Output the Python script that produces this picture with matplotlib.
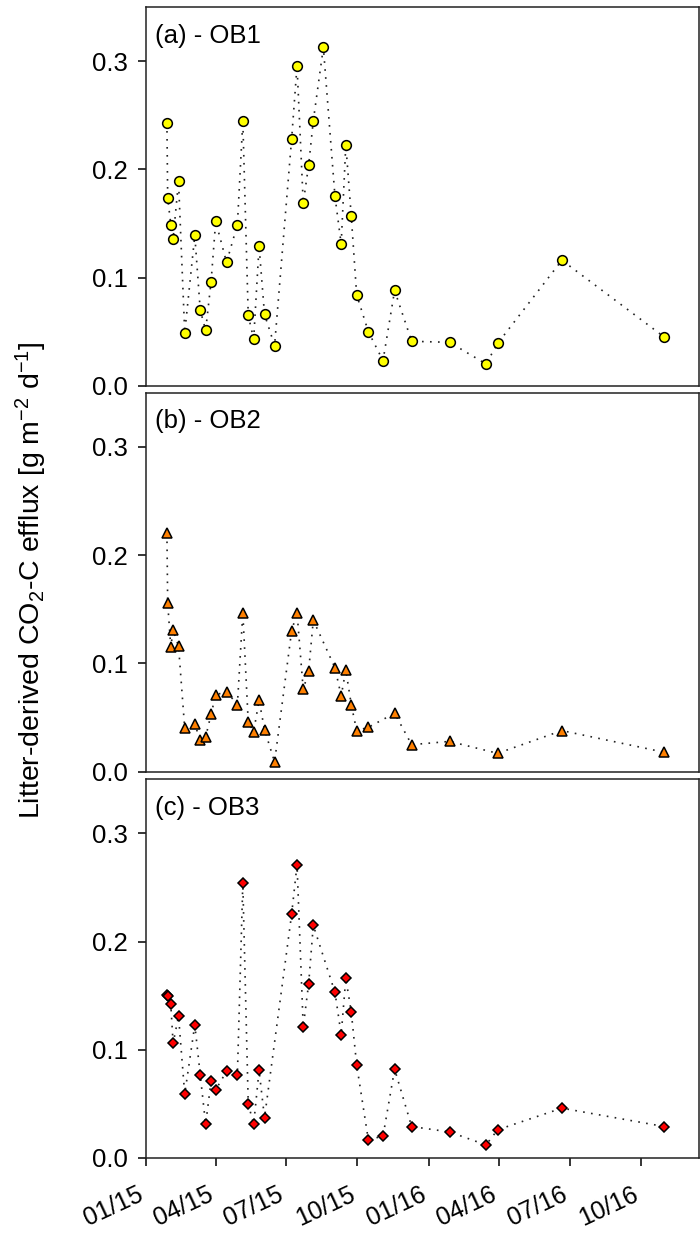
import matplotlib
matplotlib.use('Agg')
import matplotlib.pyplot as plt
import matplotlib.dates as mdates
from matplotlib.transforms import ScaledTranslation
import numpy as np
import pandas as pd

plt.rcParams['font.family'] = ['Liberation Sans', 'DejaVu Sans']
plt.rcParams['mathtext.default'] = 'regular'

# sampling dates (same for all three sites)
dates = pd.to_datetime([
    '2015-01-28', '2015-01-29', '2015-02-02', '2015-02-05', '2015-02-12',
    '2015-02-20', '2015-03-05', '2015-03-12', '2015-03-19', '2015-03-26',
    '2015-04-01', '2015-04-15', '2015-04-29', '2015-05-06', '2015-05-13',
    '2015-05-20', '2015-05-27', '2015-06-03', '2015-06-16', '2015-07-08',
    '2015-07-15', '2015-07-23', '2015-07-30', '2015-08-05', '2015-08-18',
    '2015-09-02', '2015-09-10', '2015-09-16', '2015-09-23', '2015-09-30',
    '2015-10-15', '2015-11-03', '2015-11-18', '2015-12-10', '2016-01-28',
    '2016-03-15', '2016-03-30', '2016-06-21', '2016-10-31',
])

ob1 = [0.243, 0.174, 0.149, 0.136, 0.189, 0.049, 0.139, 0.070, 0.051, 0.096,
       0.152, 0.114, 0.149, 0.245, 0.065, 0.043, 0.129, 0.066, 0.037, 0.228,
       0.296, 0.169, 0.204, 0.245, 0.313, 0.175, 0.131, 0.223, 0.157, 0.084,
       0.050, 0.023, 0.088, 0.041, 0.040, 0.020, 0.039, 0.116, 0.045]

ob2 = [0.220, 0.156, 0.115, 0.131, 0.116, 0.040, 0.044, 0.029, 0.032, 0.053,
       0.071, 0.074, 0.062, 0.147, 0.046, 0.037, 0.066, 0.039, 0.009, 0.130,
       0.147, 0.076, 0.093, 0.140, np.nan, 0.096, 0.070, 0.094, 0.062, 0.038,
       0.041, np.nan, 0.054, 0.025, 0.028, np.nan, 0.017, 0.038, 0.018]

ob3 = [0.151, 0.150, 0.142, 0.106, 0.131, 0.059, 0.123, 0.077, 0.031, 0.071,
       0.063, 0.080, 0.077, 0.254, 0.050, 0.031, 0.081, 0.037, np.nan, 0.225,
       0.271, 0.121, 0.161, 0.215, np.nan, 0.153, 0.114, 0.166, 0.135, 0.086,
       0.017, 0.020, 0.082, 0.029, 0.024, 0.012, 0.026, 0.046, 0.029]

panels = [
    ('(a) - OB1', ob1, 'o', '#ffff00', 7.0),
    ('(b) - OB2', ob2, '^', '#ff8000', 6.6),
    ('(c) - OB3', ob3, 'D', '#ff0000', 5.4),
]

fig = plt.figure(figsize=(7, 12.33), dpi=100)
left, width = 146 / 700, 553 / 700
rects = [(0.6873, 0.3067), (0.3741, 0.3074), (0.0609, 0.3071)]

for i, (label, vals, mk, col, ms) in enumerate(panels):
    b, h = rects[i]
    ax = fig.add_axes([left, b, width, h])
    s = pd.Series(vals, index=dates).dropna()
    ax.plot(s.index, s.values, linestyle=(0, (1, 3.8)), color='#222222', lw=1.2,
            marker=mk, markersize=ms, markerfacecolor=col,
            markeredgecolor='black', markeredgewidth=1.1)
    ax.set_xlim(pd.Timestamp('2015-01-01'), pd.Timestamp('2016-12-15'))
    ax.set_ylim(0, 0.35)
    ax.set_yticks([0.0, 0.1, 0.2, 0.3])
    ax.set_yticklabels(['0.0', '0.1', '0.2', '0.3'])
    ax.xaxis.set_major_locator(mdates.MonthLocator(bymonth=[1, 4, 7, 10]))
    ax.xaxis.set_major_formatter(mdates.DateFormatter('%m/%y'))
    ax.tick_params(axis='y', direction='out', length=5.8, width=1.1,
                   labelsize=18.5, pad=7.5)
    for sp in ax.spines.values():
        sp.set_linewidth(1.1)
        sp.set_color('#222222')
    if i < 2:
        ax.tick_params(axis='x', length=0, labelbottom=False)
    else:
        ax.tick_params(axis='x', direction='out', length=5.8, width=1.1,
                       labelsize=18, pad=12)
        shift = ScaledTranslation(-9 / 100, 0, fig.dpi_scale_trans)
        for t in ax.get_xticklabels():
            t.set_rotation(25)
            t.set_ha('right')
            t.set_va('top')
            t.set_rotation_mode('anchor')
            t.set_transform(t.get_transform() + shift)
    ax.text(0.016, 0.906, label, transform=ax.transAxes, ha='left',
            va='baseline', fontsize=18.5)

fig.text(40 / 700, 0.5296, 'Litter-derived CO$_2$-C efflux [g m$^{-2}$ d$^{-1}$]',
         rotation=90, rotation_mode='anchor', ha='center', va='baseline',
         fontsize=20.5)

fig.savefig('out.png', dpi=100)
